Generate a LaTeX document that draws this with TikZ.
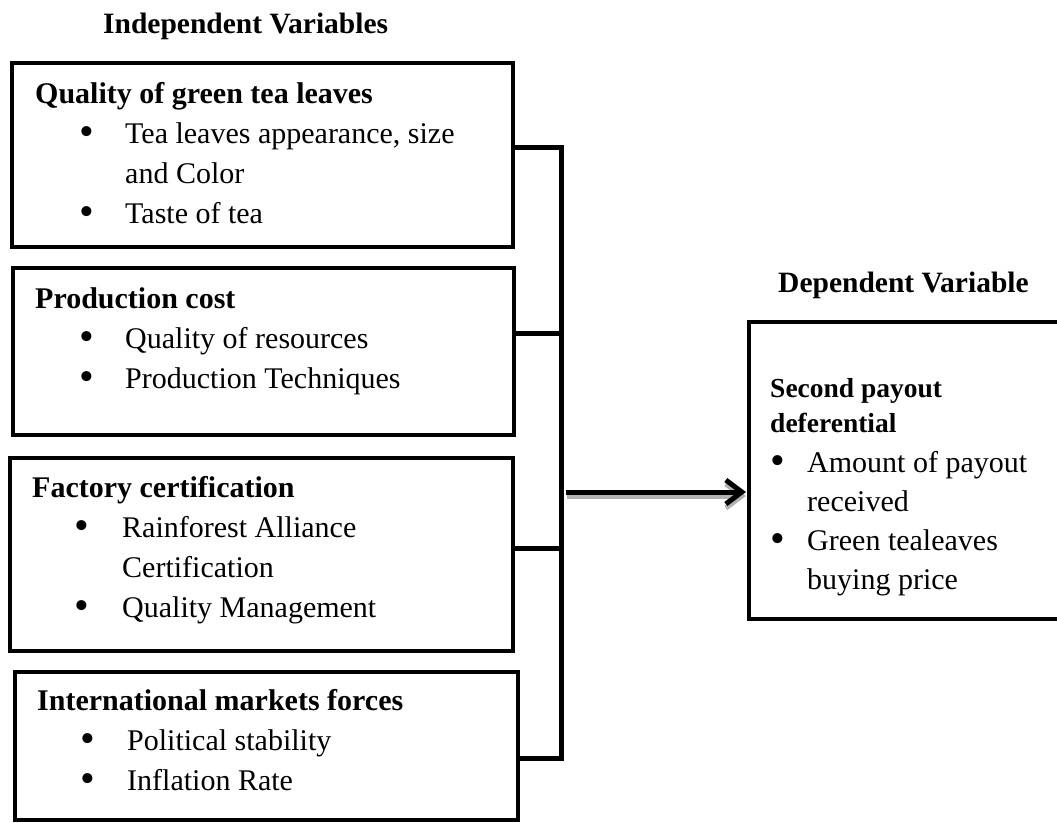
\documentclass[tikz,border=0pt]{standalone}
\usepackage{fontspec}
\setmainfont{Liberation Serif}
\usetikzlibrary{arrows.meta,calc}
\begin{document}
\begin{tikzpicture}[x=1pt,y=-1pt,
  box/.style={draw, line width=4pt, inner sep=0pt, outer sep=0pt, anchor=north west},
  conn/.style={draw, line width=5pt, line join=miter, line cap=rect},
  hd/.style={inner sep=0pt, anchor=base west, font=\fontsize{30}{36}\selectfont\bfseries},
  ttl/.style={inner sep=0pt, anchor=base west, font=\fontsize{29.5}{36}\selectfont\bfseries},
  dhd/.style={inner sep=0pt, anchor=base west, font=\fontsize{27.5}{33}\selectfont\bfseries},
  txt/.style={inner sep=0pt, anchor=base west, font=\fontsize{30}{36}\selectfont},
  bul/.style={inner sep=0pt, anchor=base, font=\fontsize{42}{42}\selectfont, yshift=-2pt},
  arr/.style={line width=5pt, -{Straight Barb[length=16pt,width=24pt]}}]
\useasboundingbox (0,0) rectangle (1057,822);
\clip (0,0) rectangle (1057,822);
% titles
\node[ttl] (tind) at (103,33) {Independent Variables};
\node[ttl] (tdep) at (778,292) {Dependent Variable};
% box 1
\node[box, minimum width=501pt, minimum height=184pt] (b1) at (12,63) {};
\node[hd] (h1) at (35,103) {Quality of green tea leaves};
\node[bul] (p11) at (87,143) {•};
\node[txt] (l11) at (125,143) {Tea leaves appearance, size};
\node[txt] (l12) at (125,183) {and Color};
\node[bul] (p12) at (87,223) {•};
\node[txt] (l13) at (125,223) {Taste of tea};
% box 2
\node[box, minimum width=501pt, minimum height=167pt] (b2) at (13,268) {};
\node[hd] (h2) at (35,308) {Production cost};
\node[bul] (p21) at (87,348) {•};
\node[txt] (l21) at (125,348) {Quality of resources};
\node[bul] (p22) at (87,388) {•};
\node[txt] (l22) at (125,388) {Production Techniques};
% box 3
\node[box, minimum width=503pt, minimum height=193pt] (b3) at (10,458) {};
\node[hd] (h3) at (32,497) {Factory certification};
\node[bul] (p31) at (82,537) {•};
\node[txt] (l31) at (122,537) {Rainforest Alliance};
\node[txt] (l32) at (122,577) {Certification};
\node[bul] (p32) at (82,617) {•};
\node[txt] (l33) at (122,617) {Quality Management};
% box 4
\node[box, minimum width=503pt, minimum height=148pt] (b4) at (15,672) {};
\node[hd] (h4) at (37,710) {International markets forces};
\node[bul] (p41) at (88,750) {•};
\node[txt] (l41) at (127,750) {Political stability};
\node[bul] (p42) at (88,790) {•};
\node[txt] (l42) at (127,790) {Inflation Rate};
% dependent box
\node[box, minimum width=330pt, minimum height=297pt] (dv) at (749,322) {};
\node[dhd] (dh1) at (770,397) {Second payout};
\node[dhd] (dh2) at (770,432) {deferential};
\node[bul] (dp1) at (778,472) {•};
\node[txt] (dl1) at (807,472) {Amount of payout};
\node[txt] (dl2) at (807,511) {received};
\node[bul] (dp2) at (778,550) {•};
\node[txt] (dl3) at (807,550) {Green tealeaves};
\node[txt] (dl4) at (807,589) {buying price};
% connectors
\coordinate (j1) at (561,147);
\coordinate (j2) at (561,333);
\coordinate (j3) at (561,548);
\coordinate (j4) at (561,758);
\coordinate (ja) at (566,492);
\coordinate (jb) at (746,492);
\draw[conn] (b1.east |- j1) -- (j1) -- (j4) -- (b4.east |- j4);
\draw[conn] (b2.east |- j2) -- (j2);
\draw[conn] (b3.east |- j3) -- (j3);
\draw[arr, gray!60] ($(ja)+(1,4)$) -- ($(jb)+(0,4)$);
\draw[arr] (ja) -- (jb);
\end{tikzpicture}
\end{document}
